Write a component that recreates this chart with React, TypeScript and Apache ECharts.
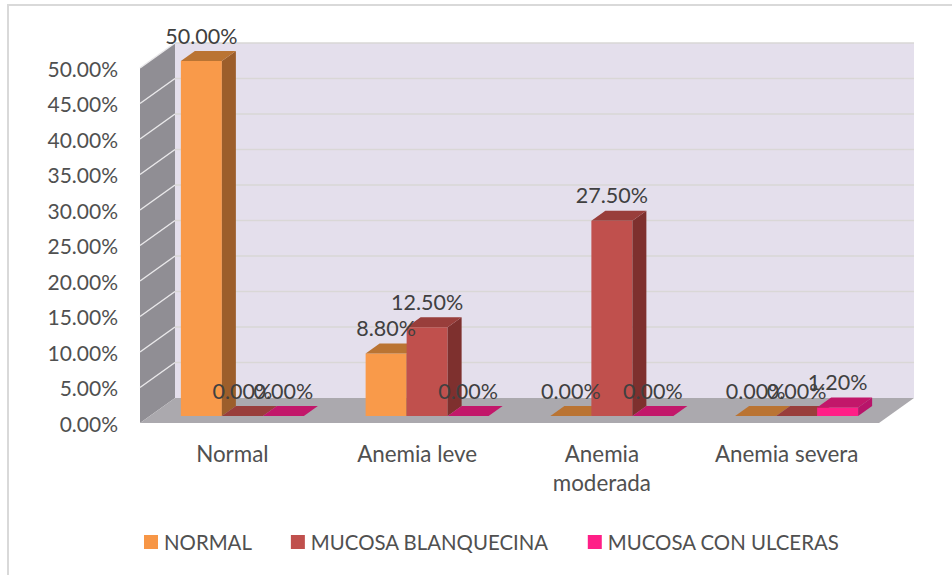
import React, { useEffect, useRef } from "react";
import * as echarts from "echarts";

const categories = ["Normal", "Anemia leve", "Anemia moderada", "Anemia severa"];
const normalValues = [50, 8.8, 0, 0];
const blanquecinaValues = [0, 12.5, 27.5, 0];
const ulcerasValues = [0, 0, 0, 1.2];
const yTicks = [0, 5, 10, 15, 20, 25, 30, 35, 40, 45, 50];
const seriesNames = ["NORMAL", "MUCOSA BLANQUECINA", "MUCOSA CON ULCERAS"];

const FONT = "Lato, 'Open Sans', sans-serif";
const BAR_W = 41;
const BAR_SHIFT = [10, -7];
const BAR_DEPTH = [14, -10];
const WALL_DEPTH = [35, -25];

const pct = (v: number) => v.toFixed(2) + "%";

const wallRender = (_p: any, api: any) => {
  const first = api.coord([0, 0]);
  const size = api.size([1, 0]);
  const left = first[0] - size[0] / 2;
  const right = left + size[0] * categories.length;
  const y0 = api.coord([0, 0])[1];
  const yTop = api.coord([0, 50])[1];
  const [dx, dy] = WALL_DEPTH;
  const poly = (points: number[][], fill: string) => ({ type: "polygon", shape: { points }, style: { fill } });
  const children: any[] = [
    poly([[left + dx, yTop + dy], [right + dx, yTop + dy], [right + dx, y0 + dy], [left + dx, y0 + dy]], "#E4DFEC"),
    poly([[left, yTop], [left + dx, yTop + dy], [left + dx, y0 + dy], [left, y0]], "#908E94"),
    poly([[left, y0], [left + dx, y0 + dy], [right + dx, y0 + dy], [right, y0]], "#ABA9AE"),
  ];
  yTicks.forEach((t) => {
    const y = api.coord([0, t])[1];
    if (t > 0) {
      children.push({
        type: "line",
        shape: { x1: left, y1: y, x2: left + dx, y2: y + dy },
        style: { stroke: "#E9E8EA", lineWidth: 1.5 },
      });
      children.push({
        type: "line",
        shape: { x1: left + dx, y1: y + dy, x2: right + dx, y2: y + dy },
        style: { stroke: "#D9D7D6", lineWidth: 1.5 },
      });
    }
  });
  return { type: "group", children };
};

const barRender = (index: number, front: string, side: string, top: string) => (_p: any, api: any) => {
  const cat = api.value(0);
  const value = api.value(1);
  const base = api.coord([cat, 0]);
  const head = api.coord([cat, value]);
  const x0 = base[0] + BAR_SHIFT[0] + (index - 1.5) * BAR_W;
  const x1 = x0 + BAR_W;
  const yb = base[1] + BAR_SHIFT[1];
  const yt = head[1] + BAR_SHIFT[1];
  const [dx, dy] = BAR_DEPTH;
  return {
    type: "group",
    children: [
      { type: "polygon", shape: { points: [[x0, yb], [x1, yb], [x1, yt], [x0, yt]] }, style: { fill: front } },
      { type: "polygon", shape: { points: [[x1, yb], [x1 + dx, yb + dy], [x1 + dx, yt + dy], [x1, yt]] }, style: { fill: side } },
      { type: "polygon", shape: { points: [[x0, yt], [x1, yt], [x1 + dx, yt + dy], [x0 + dx, yt + dy]] }, style: { fill: top } },
      {
        type: "text",
        z2: 100,
        x: (x0 + x1) / 2,
        y: yt - 25.5,
        style: {
          text: pct(value),
          fill: "#404040",
          fontSize: 21.5,
          fontFamily: FONT,
          align: "center",
          verticalAlign: "middle",
        },
      },
    ],
  };
};

const toData = (values: number[]) => values.map((v, i) => [i, v]);

export default function App() {
  const ref = useRef<HTMLDivElement>(null);
  useEffect(() => {
    const chart = echarts.init(ref.current!, null, { renderer: "svg" });
    chart.setOption({
      animation: false,
      backgroundColor: "#FFFFFF",
      grid: { left: 140, top: 68, width: 739, height: 355 },
      xAxis: {
        type: "category",
        data: categories,
        axisLine: { show: false },
        axisTick: { show: false },
        axisLabel: {
          color: "#505050",
          fontSize: 22.4,
          fontFamily: FONT,
          margin: 16,
          lineHeight: 29,
          interval: 0,
          formatter: (s: string) => (s === "Anemia moderada" ? "Anemia\nmoderada" : s),
        },
      },
      yAxis: {
        type: "value",
        min: 0,
        max: 50,
        interval: 5,
        axisLine: { show: false },
        axisTick: { show: false },
        splitLine: { show: false },
        axisLabel: { color: "#505050", fontSize: 21, fontFamily: FONT, margin: 22, padding: [2, 0, 0, 0], formatter: (v: number) => pct(v) },
      },
      legend: {
        data: seriesNames,
        left: 139,
        top: 527,
        icon: "rect",
        itemWidth: 14,
        itemHeight: 14,
        itemGap: 39,
        selectedMode: false,
        textStyle: { color: "#505050", fontSize: 20.4, fontFamily: FONT, padding: [0, 0, 0, 1] },
      },
      graphic: [
        {
          type: "polyline",
          shape: { points: [[8, 575], [8, 5], [952, 5]] },
          style: { stroke: "#D9D9D9", lineWidth: 2, fill: "none" },
        },
      ],
      series: [
        { type: "custom", name: "walls", z: 1, data: [[0, 0]], renderItem: wallRender, encode: { x: 0, y: 1 }, silent: true },
        { type: "custom", name: seriesNames[0], z: 2, itemStyle: { color: "#F79646" }, data: toData(normalValues), encode: { x: 0, y: 1 }, renderItem: barRender(0, "#F99A4A", "#9C5E2B", "#BA7433") },
        { type: "custom", name: seriesNames[1], z: 2, itemStyle: { color: "#C0504D" }, data: toData(blanquecinaValues), encode: { x: 0, y: 1 }, renderItem: barRender(1, "#C0504D", "#7E302E", "#993E3B") },
        { type: "custom", name: seriesNames[2], z: 2, itemStyle: { color: "#FF1F87" }, data: toData(ulcerasValues), encode: { x: 0, y: 1 }, renderItem: barRender(2, "#FF1F87", "#B8146A", "#C2176A") },
      ],
    });
    return () => chart.dispose();
  }, []);
  return <div ref={ref} style={{ position: "fixed", left: 0, top: 0, width: 952, height: 575 }} />;
}
